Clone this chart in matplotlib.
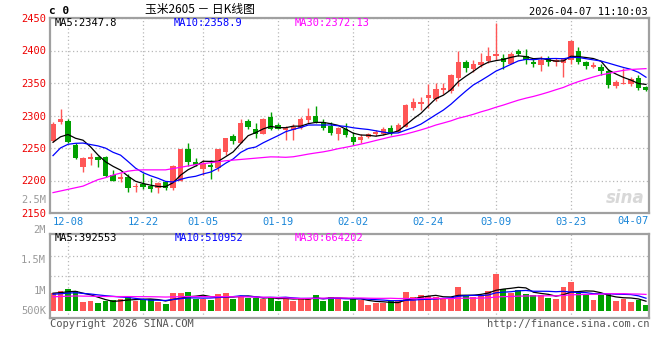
import numpy as np
import pandas as pd
import matplotlib
matplotlib.use('Agg')
from matplotlib import pyplot as plt

# corn 2605, daily bars 2025-12-04 .. 2026-04-07
opens = [2261, 2290, 2292, 2254, 2221, 2233, 2236, 2236, 2208, 2203,
         2206, 2190, 2194, 2191, 2188, 2198, 2189, 2200, 2249, 2229,
         2218, 2224, 2219, 2244, 2268, 2258, 2291, 2279, 2272, 2297,
         2285, 2277, 2278, 2281, 2293, 2299, 2290, 2284, 2271, 2280,
         2267, 2262, 2267, 2271, 2271, 2280, 2275, 2283, 2312, 2317,
         2327, 2325, 2340, 2337, 2357, 2383, 2371, 2377, 2384, 2391,
         2389, 2380, 2400, 2391, 2383, 2378, 2389, 2382, 2381, 2386,
         2400, 2383, 2374, 2375, 2368, 2345, 2349, 2348, 2357, 2344]
closes = [2287, 2294, 2259, 2235, 2235, 2236, 2231, 2207, 2200, 2206,
          2189, 2192, 2190, 2187, 2196, 2188, 2222, 2248, 2229, 2224,
          2225, 2221, 2248, 2265, 2261, 2289, 2282, 2271, 2294, 2280,
          2280, 2281, 2283, 2294, 2299, 2290, 2281, 2273, 2281, 2270,
          2259, 2267, 2271, 2274, 2279, 2273, 2285, 2316, 2321, 2321,
          2331, 2341, 2342, 2363, 2383, 2373, 2379, 2383, 2392, 2395,
          2382, 2395, 2395, 2386, 2379, 2385, 2383, 2385, 2388, 2415,
          2382, 2376, 2377, 2368, 2347, 2351, 2350, 2356, 2342, 2340]
highs = [2290, 2310, 2295, 2257, 2236, 2243, 2237, 2237, 2216, 2212,
         2210, 2196, 2212, 2204, 2197, 2199, 2224, 2249, 2257, 2235,
         2231, 2231, 2249, 2266, 2271, 2294, 2294, 2289, 2296, 2305,
         2289, 2284, 2287, 2298, 2311, 2314, 2294, 2290, 2282, 2288,
         2274, 2271, 2273, 2278, 2282, 2286, 2289, 2318, 2327, 2328,
         2349, 2350, 2350, 2364, 2399, 2386, 2385, 2396, 2406, 2443,
         2395, 2397, 2403, 2403, 2387, 2391, 2392, 2388, 2389, 2416,
         2406, 2384, 2383, 2380, 2372, 2354, 2373, 2359, 2362, 2345]
lows = [2259, 2287, 2257, 2233, 2213, 2224, 2221, 2205, 2199, 2198,
        2183, 2183, 2187, 2183, 2181, 2186, 2186, 2199, 2222, 2222,
        2208, 2202, 2215, 2239, 2256, 2257, 2279, 2266, 2271, 2277,
        2279, 2262, 2263, 2279, 2288, 2288, 2278, 2270, 2262, 2267,
        2255, 2258, 2266, 2268, 2270, 2270, 2274, 2282, 2308, 2309,
        2312, 2322, 2333, 2334, 2346, 2367, 2367, 2374, 2381, 2385,
        2372, 2379, 2391, 2380, 2374, 2368, 2376, 2376, 2359, 2379,
        2380, 2371, 2373, 2362, 2343, 2343, 2349, 2345, 2339, 2338]
volumes = [720000, 800000, 880000, 800000, 360000, 400000, 320000, 400000, 440000, 480000,
           560000, 400000, 480000, 480000, 360000, 280000, 720000, 720000, 760000, 480000,
           480000, 440000, 680000, 720000, 480000, 600000, 520000, 520000, 480000, 560000,
           400000, 560000, 400000, 520000, 480000, 640000, 400000, 570000, 520000, 400000,
           520000, 440000, 240000, 320000, 320000, 400000, 400000, 760000, 560000, 640000,
           606540, 560000, 480000, 520000, 960000, 640000, 560000, 640000, 800000, 1500000,
           880000, 720000, 840000, 680000, 640000, 640000, 530000, 480000, 960000, 1180000,
           740000, 660000, 430000, 640000, 676755, 410000, 490000, 380000, 452000, 230765]

# bars before the window (not drawn), estimated from where the MA lines start
prior_closes = [2219, 2184, 2160, 2160, 2086, 2081, 2117, 2080, 2116, 2099,
                2147, 2175, 2187, 2196, 2188, 2162, 2188, 2169, 2164, 2180,
                2176, 2203, 2220, 2231, 2259, 2252, 2241, 2264, 2250]
prior_volumes = [500000, 540000, 480000, 560000, 520000, 510000, 530000, 490000, 550000, 520000,
                 500000, 540000, 530000, 510000, 520000, 480000, 560000, 520000, 500000, 540000,
                 600000, 640000, 620000, 650000, 630000, 680000, 720000, 700000, 740000]

holidays = ['2026-01-01', '2026-01-02', '2026-02-16', '2026-02-17', '2026-02-18',
            '2026-02-19', '2026-02-20', '2026-02-23', '2026-04-06']
date_ticks = ['12-08', '12-22', '01-05', '01-19', '02-02', '02-24', '03-09', '03-23']
price_ticks = [2150, 2200, 2250, 2300, 2350, 2400, 2450]
vol_labels = ['2.5M', '2M', '1.5M', '1M', '500K']

RED = '#ff5656'
GREEN = '#00a000'
BLUE_TXT = '#1a86d8'
MONO = 'DejaVu Sans Mono'
W, H = 660, 360


def px(x, y):
    # pixel position -> figure fraction
    return x / W, 1 - y / H


def ma(prior, values, n):
    s = pd.Series(list(prior) + list(values), dtype=float)
    return s.rolling(n).mean().to_numpy()[len(prior):]


days = pd.bdate_range('2025-12-04', '2026-04-07')
days = days[~days.isin(pd.to_datetime(holidays))]
labels = [d.strftime('%m-%d') for d in days]
tick_pos = [labels.index(d) for d in date_ticks]

o = np.array(opens, float)
c = np.array(closes, float)
hi = np.array(highs, float)
lo = np.array(lows, float)
vol = np.array(volumes, float)
x = np.arange(len(c))
col = np.where(c >= o, RED, GREEN)

fig = plt.figure(figsize=(6.6, 3.6), dpi=100)
ax = fig.add_axes([50 / W, 1 - 213 / H, 599 / W, 195 / H])
axv = fig.add_axes([50 / W, 1 - 318 / H, 599 / W, 84 / H])

for a in (ax, axv):
    a.set_xlim(-0.4, len(c) - 0.6)
    a.set_axisbelow(True)
    for sp in a.spines.values():
        sp.set_color('#a0a0a0')
        sp.set_linewidth(1.6)
    a.tick_params(length=0)
    a.grid(True, color='#b8b8b8', linestyle=(0, (1, 2)), linewidth=0.9)
    a.set_xticks(tick_pos)

# price panel
ax.vlines(x, lo, hi, colors=col, linewidth=1)
ax.bar(x, np.maximum(abs(c - o), 1.0), 0.72, bottom=np.minimum(o, c), color=col, linewidth=0)
ax.plot(x, ma(prior_closes, c, 5), color='black', lw=0.9)
ax.plot(x, ma(prior_closes, c, 10), color='#0000ff', lw=0.9)
ax.plot(x, ma(prior_closes, c, 30), color='#ff00ff', lw=0.9)
ax.set_ylim(price_ticks[0], price_ticks[-1])
ax.set_yticks(price_ticks)
ax.set_yticklabels([str(p) for p in price_ticks], color='#ee0000', fontfamily=MONO, fontsize=7.5)
ax.tick_params(axis='y', pad=3)
ax.set_xticklabels(date_ticks, color=BLUE_TXT, fontfamily=MONO, fontsize=7.5)
ax.tick_params(axis='x', pad=3)
fig.text(*px(649, 221), labels[-1], ha='right', va='center', color=BLUE_TXT,
         fontfamily=MONO, fontsize=7.5)

ma5, ma10, ma30 = (ma(prior_closes, c, n)[-1] for n in (5, 10, 30))
fig.text(*px(55, 23), f'MA5:{ma5:.1f}', color='black', fontfamily=MONO, fontsize=7.5, va='center')
fig.text(*px(174, 23), f'MA10:{ma10:.1f}', color='#0000ff', fontfamily=MONO, fontsize=7.5, va='center')
fig.text(*px(295, 23), f'MA30:{ma30:.2f}', color='#ff00ff', fontfamily=MONO, fontsize=7.5, va='center')
fig.text(*px(625, 198), 'sina', color='#d8d8d8', fontsize=12, style='italic',
         fontweight='bold', ha='center', va='center')

# volume panel
axv.bar(x, vol, 0.78, color=col, linewidth=0)
axv.plot(x, ma(prior_volumes, vol, 5), color='black', lw=0.9)
axv.plot(x, ma(prior_volumes, vol, 10), color='#0000ff', lw=0.9)
axv.plot(x, ma(prior_volumes, vol, 30), color='#ff00ff', lw=0.9)
axv.set_ylim(-280000, 3080000)
axv.set_yticks([1412000, 2212000])
axv.set_yticklabels([])
axv.set_xticklabels([])

vm5, vm10, vm30 = (ma(prior_volumes, vol, n)[-1] for n in (5, 10, 30))
fig.text(*px(55, 238), f'MA5:{vm5:.0f}', color='black', fontfamily=MONO, fontsize=7.5, va='center')
fig.text(*px(175, 238), f'MA10:{vm10:.0f}', color='#0000ff', fontfamily=MONO, fontsize=7.5, va='center')
fig.text(*px(295, 238), f'MA30:{vm30:.0f}', color='#ff00ff', fontfamily=MONO, fontsize=7.5, va='center')
for lab, yy in zip(vol_labels, [200, 230, 260, 291, 311]):
    fig.text(*px(46, yy), lab, color='#9a9a9a', fontfamily=MONO, fontsize=7.5, ha='right', va='center')

# header / footer
fig.text(*px(49, 11), 'c 0', fontfamily=MONO, fontsize=8, fontweight='bold', va='center')
fig.text(*px(200, 10), '玉米2605 － 日K线图', family=['Noto Sans CJK SC', 'DejaVu Sans'],
         fontsize=8.5, ha='center', va='center')
fig.text(*px(648, 12), '2026-04-07 11:10:03', fontfamily=MONO, fontsize=7.5, ha='right', va='center')
fig.text(*px(50, 324), 'Copyright 2026 SINA.COM', color='#555555', fontfamily=MONO, fontsize=7.5, va='center')
fig.text(*px(649, 324), 'http://finance.sina.com.cn', color='#555555', fontfamily=MONO, fontsize=7.5,
         ha='right', va='center')

fig.savefig('out.png', dpi=100)
